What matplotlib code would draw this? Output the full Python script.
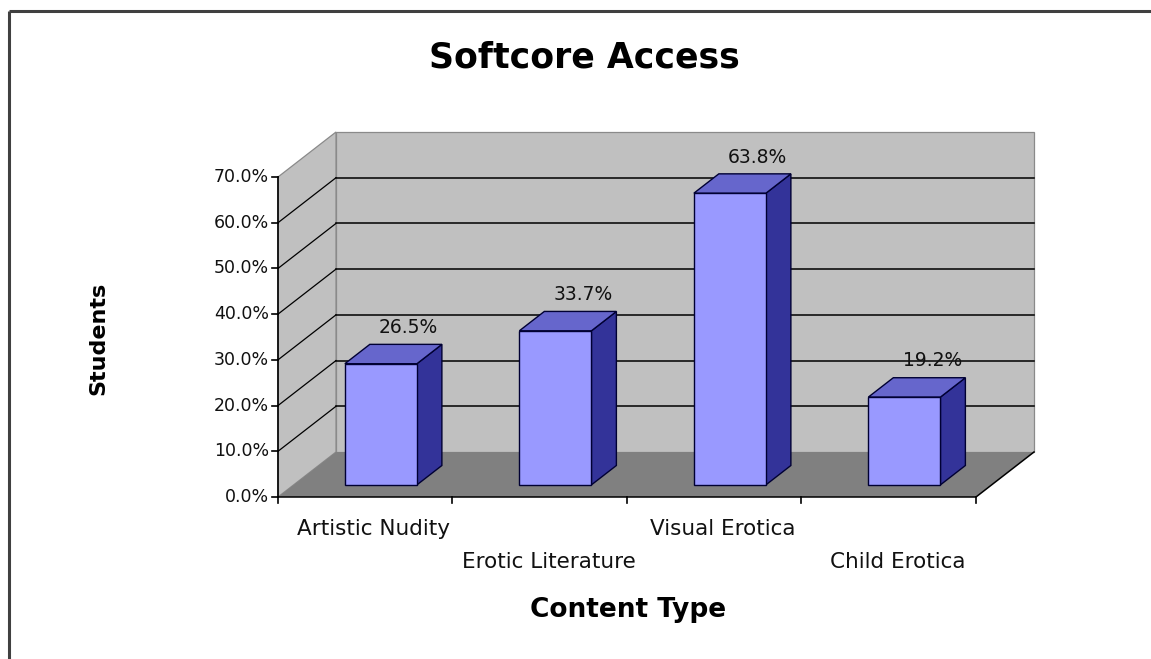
import matplotlib
matplotlib.use("Agg")
import matplotlib.pyplot as plt
from matplotlib.patches import Polygon

# ---- data ----
categories = ["Artistic Nudity", "Erotic Literature", "Visual Erotica", "Child Erotica"]
values = [26.5, 33.7, 63.8, 19.2]
y_ticks = [0, 10, 20, 30, 40, 50, 60, 70]
y_tick_labels = ["0.0%", "10.0%", "20.0%", "30.0%", "40.0%", "50.0%", "60.0%", "70.0%"]
title = "Softcore Access"
x_title = "Content Type"
y_title = "Students"

# ---- layout / style ----
W, H = 1151, 659
X0, Y0 = 278.0, 497.0          # front-left corner of the floor (0%)
CAT_W = 174.5                   # front width of one category
PX_PER = 320.0 / 70.0           # pixels per percent
DX, DY = 58.0, -45.0            # depth vector (z from 0 to 1)
VMAX = 70
BAR_W = 0.413
Z_FRONT, Z_BACK = 0.27, 0.70

FRONT = "#9999ff"
TOP = "#6666cc"
SIDE = "#333399"
WALL = "#c0c0c0"
FLOOR = "#808080"


def proj(u, v, z):
    return (X0 + u * CAT_W + DX * z, Y0 - v * PX_PER + DY * z)


fig = plt.figure(figsize=(W / 100, H / 100), dpi=100)
ax = fig.add_axes([0, 0, 1, 1])
ax.set_xlim(0, W)
ax.set_ylim(H, 0)
ax.axis("off")

n = len(categories)

# outer border (top and left only visible)
ax.plot([9, W], [11, 11], color="#404040", lw=2.2, solid_capstyle="butt")
ax.plot([9, 9], [11, H], color="#404040", lw=2.2, solid_capstyle="butt")

# back wall
back = [proj(0, 0, 1), proj(n, 0, 1), proj(n, VMAX, 1), proj(0, VMAX, 1)]
ax.add_patch(Polygon(back, closed=True, facecolor=WALL, edgecolor="#8a8a8a", lw=0.9, zorder=1))
# left wall
left = [proj(0, 0, 0), proj(0, 0, 1), proj(0, VMAX, 1), proj(0, VMAX, 0)]
ax.add_patch(Polygon(left, closed=True, facecolor=WALL, edgecolor="#8a8a8a", lw=0.9, zorder=1))
# floor
floor = [proj(0, 0, 0), proj(n, 0, 0), proj(n, 0, 1), proj(0, 0, 1)]
ax.add_patch(Polygon(floor, closed=True, facecolor=FLOOR, edgecolor="none", zorder=1))

# gridlines
for v in y_ticks[1:-1]:
    a, b = proj(0, v, 1), proj(n, v, 1)
    ax.plot([a[0], b[0]], [a[1], b[1]], color="black", lw=1.1, zorder=2)
    c = proj(0, v, 0)
    ax.plot([c[0], a[0]], [c[1], a[1]], color="black", lw=0.9, zorder=2)

# floor edges
a, b, c = proj(0, 0, 0), proj(n, 0, 0), proj(n, 0, 1)
ax.plot([a[0], b[0], c[0]], [a[1], b[1], c[1]], color="black", lw=1.1, zorder=3)

# y axis
a, b = proj(0, 0, 0), proj(0, VMAX, 0)
ax.plot([a[0], b[0]], [a[1], b[1]], color="black", lw=1.2, zorder=3)
for v, lab in zip(y_ticks, y_tick_labels):
    p = proj(0, v, 0)
    ax.plot([p[0] - 6, p[0]], [p[1], p[1]], color="black", lw=1.2, zorder=3)
    ax.text(p[0] - 9, p[1], lab, ha="right", va="center", fontsize=12.5, color="#111111")

# x ticks
for i in range(n + 1):
    p = proj(i, 0, 0)
    ax.plot([p[0], p[0]], [p[1], p[1] + 6], color="black", lw=1.2, zorder=3)

# bars
for i, v in enumerate(values):
    u0, u1 = i + 0.5 - BAR_W / 2, i + 0.5 + BAR_W / 2
    front = [proj(u0, 0, Z_FRONT), proj(u1, 0, Z_FRONT), proj(u1, v, Z_FRONT), proj(u0, v, Z_FRONT)]
    side = [proj(u1, 0, Z_FRONT), proj(u1, 0, Z_BACK), proj(u1, v, Z_BACK), proj(u1, v, Z_FRONT)]
    top = [proj(u0, v, Z_FRONT), proj(u1, v, Z_FRONT), proj(u1, v, Z_BACK), proj(u0, v, Z_BACK)]
    for poly, col in ((side, SIDE), (top, TOP), (front, FRONT)):
        ax.add_patch(Polygon(poly, closed=True, facecolor=col, edgecolor="#000033",
                             lw=1.0, joinstyle="miter", zorder=4))
    lp = proj(i + 0.5, v, 0.75)
    ax.text(lp[0], lp[1] - 9, f"{v:.1f}%", ha="center", va="baseline",
            fontsize=13.5, color="#111111", zorder=5)

# category labels (staggered)
for i, lab in enumerate(categories):
    p = proj(i + 0.5, 0, 0.15)
    yb = 535 if i % 2 == 0 else 568
    ax.text(p[0], yb, lab, ha="center", va="baseline", fontsize=15.5, color="#111111")

# titles
ax.text(584, 67, title, ha="center", va="baseline", fontsize=25, fontweight="bold", color="black")
ax.text(628, 617, x_title, ha="center", va="baseline", fontsize=19, fontweight="bold", color="black")
ax.text(98, 338, y_title, ha="center", va="center", rotation=90, fontsize=16,
        fontweight="bold", color="black")

fig.savefig("out.png", dpi=100)
